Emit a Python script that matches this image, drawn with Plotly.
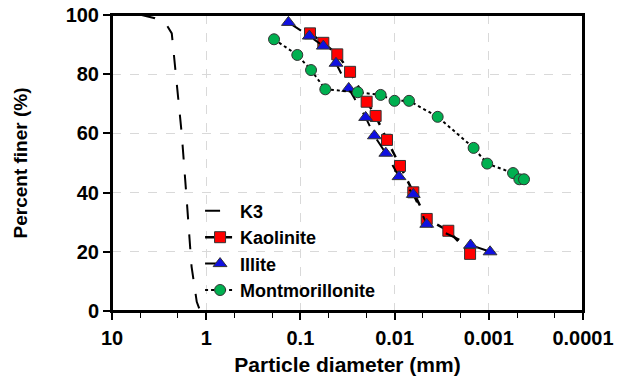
import plotly.graph_objects as go

# K3 grading curve
k3_d = [5.0, 4.84, 3.50, 2.63, 2.32, 2.23, 2.06, 1.82, 1.61, 1.43, 1.26, 1.16]
k3_p = [100.0, 100.0, 98.9, 96.6, 93.8, 88.2, 76.9, 60.0, 37.5, 15.0, 3.1, 0.0]

kao_d = [0.0791, 0.0571, 0.0406, 0.0297, 0.0198, 0.0159, 0.01205, 0.00877, 0.00633, 0.00456, 0.00269, 0.00158]
kao_p = [93.8, 90.6, 86.7, 80.8, 70.7, 65.9, 57.8, 49.0, 40.1, 31.1, 27.1, 19.3]

ill_d = [0.134, 0.0804, 0.0571, 0.0419, 0.0307, 0.0203, 0.0164, 0.0124, 0.00898, 0.00633, 0.00456, 0.00156, 0.00097]
ill_p = [97.5, 92.9, 89.5, 83.7, 75.2, 65.4, 59.2, 53.3, 45.4, 39.4, 29.3, 22.3, 20.0]

mon_d = [0.1905, 0.1079, 0.0771, 0.0544, 0.0246, 0.01406, 0.01002, 0.00703, 0.00349, 0.00145, 0.00104, 0.000553, 0.000474, 0.000423]
mon_p = [91.8, 86.5, 81.4, 74.9, 73.9, 73.0, 71.0, 71.0, 65.6, 55.1, 49.8, 46.6, 44.5, 44.5]

x_tickvals = [10, 1, 0.1, 0.01, 0.001, 0.0001]
x_ticktext = ["10", "1", "0.1", "0.01", "0.001", "0.0001"]
y_tickvals = [0, 20, 40, 60, 80, 100]

FONT = "Liberation Sans, Arial, sans-serif"

fig = go.Figure()
fig.add_trace(go.Scatter(x=k3_d, y=k3_p, mode="lines", name="K3",
                         line=dict(color="black", width=2, dash="longdash")))
fig.add_trace(go.Scatter(x=kao_d, y=kao_p, mode="lines+markers", name="Kaolinite",
                         line=dict(color="black", width=2.5, dash="dash"),
                         marker=dict(symbol="square", size=11, color="#ff0000",
                                     line=dict(color="#333333", width=1))))
fig.add_trace(go.Scatter(x=ill_d, y=ill_p, mode="lines+markers", name="Illite",
                         line=dict(color="black", width=2, dash="longdash"),
                         marker=dict(symbol="triangle-up", size=12, color="#1010e0",
                                     line=dict(color="#333333", width=1))))
fig.add_trace(go.Scatter(x=mon_d, y=mon_p, mode="lines+markers", name="Montmorillonite",
                         line=dict(color="black", width=2, dash="dot"),
                         marker=dict(symbol="circle", size=11, color="#00b050",
                                     line=dict(color="#333333", width=1))))

fig.update_layout(
    width=617, height=382,
    margin=dict(l=112, r=34, t=15, b=71),
    paper_bgcolor="white", plot_bgcolor="white",
    font=dict(family=FONT, color="black"),
    legend=dict(x=0.187, y=0.40, xanchor="left", yanchor="top",
                bgcolor="rgba(0,0,0,0)", borderwidth=0,
                font=dict(size=18, weight="bold", family=FONT),
                tracegroupgap=0, itemwidth=30),
    showlegend=True,
    shapes=[dict(type="rect", xref="paper", yref="paper", x0=0, x1=1, y0=0, y1=1,
                 line=dict(color="black", width=2), fillcolor="rgba(0,0,0,0)", layer="above")],
)
fig.update_xaxes(
    type="log", range=[1, -4], automargin=False,
    tickvals=x_tickvals, ticktext=x_ticktext,
    tickfont=dict(size=20, weight="bold", family=FONT),
    ticklabelstandoff=1,
    title=dict(text="Particle diameter (mm)", font=dict(size=21, weight="bold", family=FONT), standoff=9),
    showline=True, linecolor="black", linewidth=2, mirror=True,
    ticks="outside", ticklen=7, tickwidth=2, tickcolor="black",
    minor=dict(ticks="outside", ticklen=5, tickwidth=1, tickcolor="black", showgrid=False),
    showgrid=True, gridcolor="#d9d9d9", griddash="dash", gridwidth=1,
    zeroline=False,
)
fig.update_yaxes(
    range=[0, 100], tickvals=y_tickvals, automargin=False,
    tickfont=dict(size=20, weight="bold", family=FONT),
    title=dict(text="Percent finer (%)", font=dict(size=19, weight="bold", family=FONT), standoff=33),
    showline=True, linecolor="black", linewidth=2, mirror=True,
    ticks="outside", ticklen=7, tickwidth=2, tickcolor="black",
    showgrid=True, gridcolor="#d9d9d9", griddash="dash", gridwidth=1,
    zeroline=False,
)

fig.write_html("out.html", config={"displayModeBar": False},
               post_script="document.body.style.margin='0';")
